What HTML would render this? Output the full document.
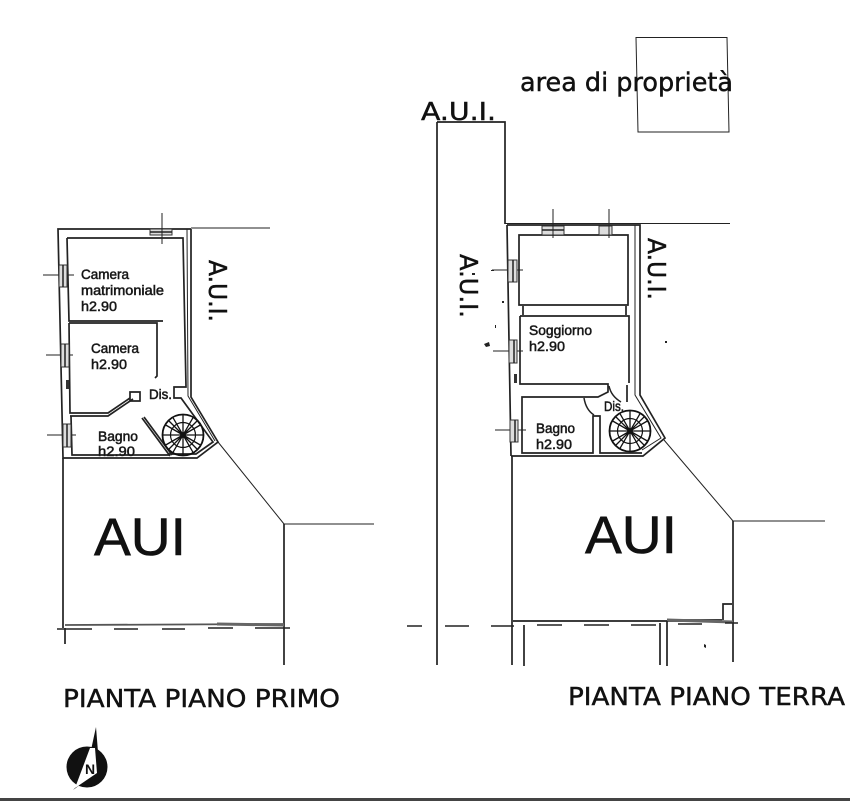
<!DOCTYPE html>
<html><head><meta charset="utf-8"><style>
html,body{margin:0;padding:0;background:#fff;width:850px;height:801px;overflow:hidden}
svg{display:block}
text{font-family:"Liberation Sans",sans-serif;fill:#111}
.r{font-size:14px;stroke:#222;stroke-width:.55}
.big{font-family:"DejaVu Sans",sans-serif;stroke:#111;stroke-width:.45}
.aui{font-size:53px;stroke:#111;stroke-width:.6}
.l{fill:none;stroke:#222;stroke-width:1.7}
.t{fill:none;stroke:#222;stroke-width:1}
.d{fill:none;stroke:#222;stroke-width:1.5}
.w{fill:#ddd;stroke:#333;stroke-width:1}
</style></head><body>
<svg width="850" height="801" viewBox="0 0 850 801" xmlns="http://www.w3.org/2000/svg">
<defs>
<g id="st" fill="none" stroke="#111">
<circle r="20.5" stroke-width="1.8"/><circle r="12.5" stroke-width="1.2"/>
<path stroke-width="1.3" d="M0,-20V20M-20,0H20M-14,-14L14,14M-14,14L14,-14M-10,-17.300L10,17.300M10,-17.300L-10,17.300M-17.300,-10L17.300,10M-17.300,10L17.300,-10"/>
<circle r="3" fill="#111" stroke="none"/>
</g>
</defs>

<!-- area di proprieta -->
<path class="t" d="M636,37.500H727L729,132H638Z" stroke-width="1.3"/>
<text class="big" x="520" y="91" font-size="26" textLength="213" lengthAdjust="spacingAndGlyphs">area di proprietà</text>
<text class="big" x="421" y="120" font-size="25" textLength="75" lengthAdjust="spacingAndGlyphs">A.U.I.</text>

<!-- LEFT PLAN -->
<path class="t" d="M191,228H270" stroke-width="1.2"/>
<path class="l" d="M191,229H58L63,458H197L218,442L191,397V229"/>
<path class="t" d="M187,229L188,396L215,441" stroke-width="1.2"/>
<path class="l" d="M67,238H183L186,387H174V398H181L213,442L196,454H168"/>
<path class="l" d="M67,238L69,321H163M69,323L70,413H108L130,398M69,323H157V376L155,378M70,416H108L133,399M71,416L72,455H170"/>
<path class="l" d="M142,418L170,456M144,417L172,455"/>
<path class="l" d="M130,392H140V401H130Z" stroke-width="1.2"/>
<path class="w" d="M150,229H172V235H150Z"/>
<path class="t" d="M162,213V244M43,275H74M46,355H73M47,435H76"/>
<path class="w" d="M59,265H67V287H59ZM61,344H69V367H61ZM63,424H71V447H63Z"/>
<path class="d" d="M63,265V287M65,344V367M67,424V447M150,232H172"/>
<g transform="translate(183,435)"><use href="#st"/></g>
<rect x="66" y="380" width="3" height="9" fill="#333"/>
<!-- site left -->
<path class="l" d="M63,458V628M65,628V644"/>
<path class="t" d="M218,442L284,524H374" stroke-width="1.3"/>
<path class="l" d="M284,524V665" stroke-width="1.3"/>
<path d="M65,625L284,624" fill="none" stroke="#555" stroke-width="1.8"/>
<path d="M217,624L284,625" fill="none" stroke="#666" stroke-width="3"/>
<path class="d" d="M57,629H92M114,629H138M162,629H185M208,628H233M255,628H290"/>

<text class="r" x="81" y="279" textLength="48" lengthAdjust="spacingAndGlyphs">Camera</text>
<text class="r" x="81" y="295" textLength="83" lengthAdjust="spacingAndGlyphs">matrimoniale</text>
<text class="r" x="81" y="311" textLength="36" lengthAdjust="spacingAndGlyphs">h2.90</text>
<text class="r" x="91" y="353" textLength="48" lengthAdjust="spacingAndGlyphs">Camera</text>
<text class="r" x="91" y="369" textLength="36" lengthAdjust="spacingAndGlyphs">h2.90</text>
<text class="r" x="149" y="399" textLength="23" lengthAdjust="spacingAndGlyphs">Dis.</text>
<text class="r" x="98" y="441" textLength="40" lengthAdjust="spacingAndGlyphs">Bagno</text>
<text class="r" x="98" y="456" textLength="37" lengthAdjust="spacingAndGlyphs">h2.90</text>
<text class="big" x="209" y="260" font-size="25" transform="rotate(90 209 260)" textLength="62" lengthAdjust="spacingAndGlyphs">A.U.I.</text>
<text class="aui" x="94" y="555" textLength="92" lengthAdjust="spacingAndGlyphs">AUI</text>
<text class="big" x="63" y="707" font-size="24.500" textLength="277" lengthAdjust="spacingAndGlyphs">PIANTA PIANO PRIMO</text>

<!-- north -->
<circle cx="87" cy="767" r="20.500" fill="#111"/>
<path d="M96,727L91,750L98,752Z" fill="#111"/>
<path d="M90,748L95,748L97,773L75,788Z" fill="#fff"/>
<path d="M75,788L73,790L80,785Z" fill="#111"/>
<text x="85" y="774" font-size="14" style="font-weight:bold">N</text>

<!-- RIGHT PLAN -->
<path class="l" d="M437,122H505V224M437,122V665M507,225L511,456M512,456V665"/>
<path class="t" d="M505,223.500H730" stroke-width="1.3"/>
<path class="l" d="M507,225H640V395L665,438L643,456H511"/>
<path class="t" d="M635,225V395L661,438L642,450" stroke-width="1.3"/>
<path class="l" d="M519,235H628V305H519ZM523,306V315M626,306V315M520,316H629V383M520,316V384H608V392L598,397H522V453H593V416H600V453H642"/>
<path class="d" d="M584,398Q586,410 594,415M609,386Q611,396 621,402"/>
<path class="l" d="M627,385V402" stroke-width="2.500"/>
<path class="w" d="M542,226H564V235H542ZM599,226H612V235H599Z"/>
<path class="t" d="M553,209V238M609,209V238M492,270H523M493,351H523M495,430H526"/>
<path class="w" d="M508,260H517V282H508ZM509,340H517V363H509ZM510,420H518V442H510Z"/>
<path class="d" d="M513,260V282M514,340V363M515,420V442M542,230H564"/>
<rect x="514" y="374" width="3" height="9" fill="#333"/>
<g transform="translate(630,431)"><use href="#st"/></g>
<!-- site right -->
<path class="t" d="M664,440L733,521H825" stroke-width="1.3"/>
<path class="l" d="M733,521V662M513,621H722M667,620H722M723,620V604H732" stroke-width="1.300"/>
<path d="M667,620L733,622" fill="none" stroke="#666" stroke-width="3"/>
<path class="d" d="M407,626H422M445,626H469M491,626H514M537,625H562M584,625H609M631,625H656M678,624H702M725,623H738"/>
<path class="l" d="M524,625V666M660,623V665M667,621V666" stroke-width="1.300"/>
<!-- specks -->
<path fill="#222" d="M484,344l5,-2l1,4l-4,1ZM704,644l2,1l0,3l-2,-1ZM472,273h3v2h-3ZM491,270h3v1h-3ZM502,301h2v2h-2ZM665,341h2v2h-2ZM495,325h1v3h-1Z"/>

<text class="r" x="529" y="335" textLength="63" lengthAdjust="spacingAndGlyphs">Soggiorno</text>
<text class="r" x="529" y="351" textLength="36" lengthAdjust="spacingAndGlyphs">h2.90</text>
<text class="r" x="604" y="411" textLength="20" lengthAdjust="spacingAndGlyphs">Dis.</text>
<text class="r" x="536" y="433" textLength="39" lengthAdjust="spacingAndGlyphs">Bagno</text>
<text class="r" x="536" y="449" textLength="36" lengthAdjust="spacingAndGlyphs">h2.90</text>
<text class="big" x="460" y="254" font-size="25" transform="rotate(90 460 254)" textLength="64" lengthAdjust="spacingAndGlyphs">A.U.I.</text>
<text class="big" x="648" y="238" font-size="25" transform="rotate(90 648 238)" textLength="62" lengthAdjust="spacingAndGlyphs">A.U.I.</text>
<text class="aui" x="585" y="553" textLength="92" lengthAdjust="spacingAndGlyphs">AUI</text>
<text class="big" x="568" y="705" font-size="24.500" textLength="277" lengthAdjust="spacingAndGlyphs">PIANTA PIANO TERRA</text>

<rect x="0" y="798" width="850" height="3" fill="#444"/>
</svg>
</body></html>
